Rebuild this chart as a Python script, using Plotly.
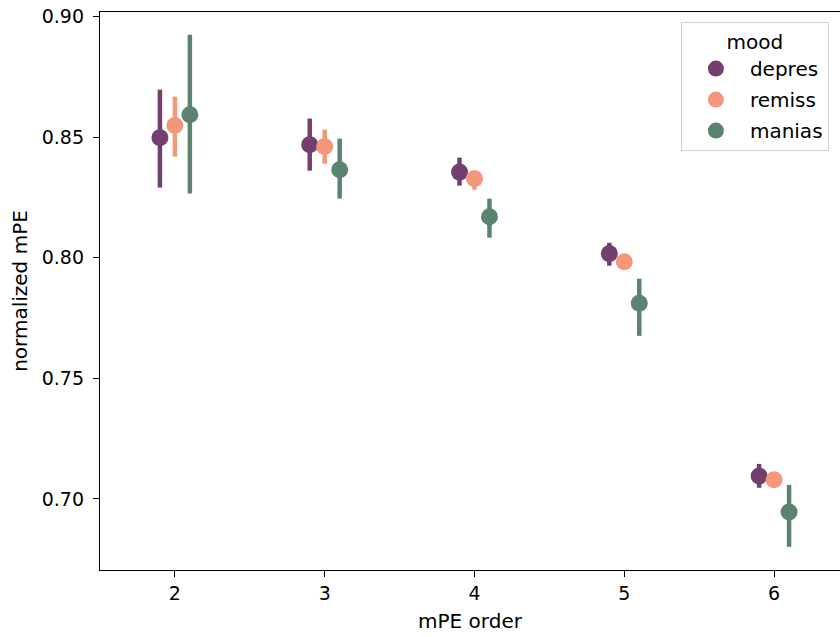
import plotly.graph_objects as go

# mPE order on the x axis, one point per mood group (dodged)
orders = [2, 3, 4, 5, 6]
moods = ["depres", "remiss", "manias"]
colors = {"depres": "#723f70", "remiss": "#f4977a", "manias": "#5a8370"}

# mean normalized mPE and its confidence interval bounds
depres_mean = [0.8498, 0.8469, 0.8355, 0.8017, 0.7095]
depres_lo = [0.8291, 0.8361, 0.8299, 0.7967, 0.7046]
depres_hi = [0.8697, 0.8577, 0.8415, 0.8062, 0.7145]

remiss_mean = [0.8548, 0.8461, 0.8328, 0.7983, 0.7079]
remiss_lo = [0.8419, 0.8390, 0.8282, 0.7963, 0.7062]
remiss_hi = [0.8668, 0.8531, 0.8361, 0.8000, 0.7095]

manias_mean = [0.8593, 0.8365, 0.8170, 0.7811, 0.6946]
manias_lo = [0.8266, 0.8245, 0.8083, 0.7676, 0.6801]
manias_hi = [0.8925, 0.8494, 0.8245, 0.7913, 0.7058]

series = {
    "depres": (depres_mean, depres_lo, depres_hi),
    "remiss": (remiss_mean, remiss_lo, remiss_hi),
    "manias": (manias_mean, manias_lo, manias_hi),
}
dodge = {"depres": -0.1, "remiss": 0.0, "manias": 0.1}

fig = go.Figure()
for m in moods:
    mean, lo, hi = series[m]
    fig.add_trace(go.Scatter(
        x=[o + dodge[m] for o in orders],
        y=mean,
        mode="markers",
        name=m,
        legendgroup=m,
        marker=dict(color=colors[m], size=17, line=dict(width=0)),
        error_y=dict(
            type="data", symmetric=False,
            array=[h - v for h, v in zip(hi, mean)],
            arrayminus=[v - l for v, l in zip(mean, lo)],
            color=colors[m], thickness=4.5, width=0,
        ),
    ))

font = "DejaVu Sans, sans-serif"
fig.update_layout(
    width=840, height=637,
    margin=dict(l=100, r=0, t=12, b=67),
    plot_bgcolor="white", paper_bgcolor="white",
    font=dict(family=font, size=19, color="black"),
    legend=dict(
        title=dict(text="mood", side="top center", font=dict(size=20)),
        x=0.785, y=0.982, xanchor="left", yanchor="top",
        bordercolor="#d0d0d0", borderwidth=1, bgcolor="white",
        font=dict(size=20), itemwidth=58, tracegroupgap=2,
    ),
    xaxis=dict(
        range=[1.5, 6.44], tickvals=orders, ticktext=[str(o) for o in orders],
        showgrid=False, zeroline=False,
        showline=True, linecolor="black", linewidth=1.3, mirror=True,
        ticks="outside", ticklen=6, tickwidth=1.2, tickcolor="black",
        tickfont=dict(size=19),
        title=dict(text="mPE order", standoff=11, font=dict(size=20)),
    ),
    yaxis=dict(
        range=[0.6705, 0.9019],
        tickvals=[0.70, 0.75, 0.80, 0.85, 0.90],
        ticktext=["0.70", "0.75", "0.80", "0.85", "0.90"],
        showgrid=False, zeroline=False,
        showline=True, linecolor="black", linewidth=1.3, mirror=False,
        ticks="outside", ticklen=6, tickwidth=1.2, tickcolor="black",
        tickfont=dict(size=19), ticklabelstandoff=5,
        title=dict(text="normalized mPE", standoff=8, font=dict(size=20)),
    ),
)

fig.write_html("out.html")
